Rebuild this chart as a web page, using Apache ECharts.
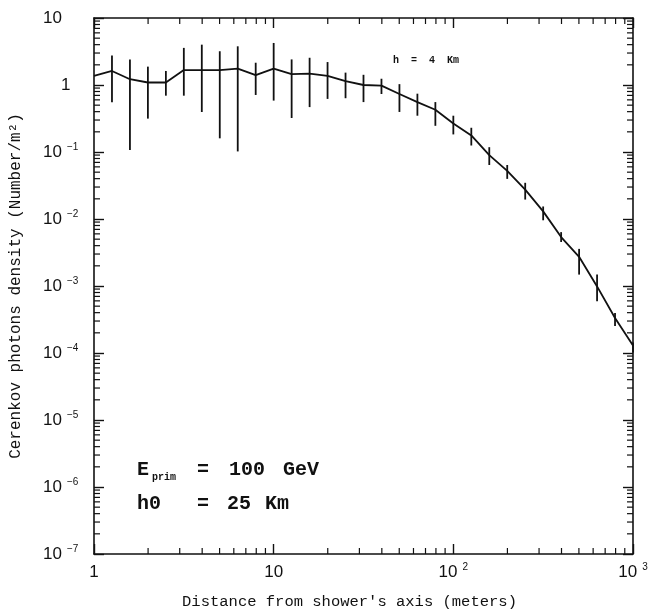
<!DOCTYPE html>
<html>
<head>
<meta charset="utf-8">
<script src="https://cdn.jsdelivr.net/npm/echarts@6/dist/echarts.min.js"></script>
<style>
  html, body { margin: 0; padding: 0; background: #fff; }
  #chart { width: 663px; height: 615px; }
</style>
</head>
<body>
<div id="chart"></div>
<script>
// Radial distance from the shower axis (m)
const distance = [1, 1.259, 1.585, 1.995, 2.512, 3.162, 3.981, 5.012, 6.310, 7.943,
  10, 12.59, 15.85, 19.95, 25.12, 31.62, 39.81, 50.12, 63.10, 79.43,
  100, 125.9, 158.5, 199.5, 251.2, 316.2, 398.1, 501.2, 631.0, 794.3, 1000];

// Cerenkov photon density (photons / m^2)
const density = [1.37, 1.62, 1.22, 1.09, 1.09, 1.67, 1.67, 1.67, 1.76, 1.40,
  1.76, 1.45, 1.48, 1.37, 1.14, 1.00, 0.98, 0.734, 0.556, 0.427,
  0.266, 0.177, 0.0897, 0.0522, 0.0274, 0.0130, 0.00538, 0.00273, 0.000986, 0.000333, 0.000129];

// Fluctuation band (lower / upper edge of each error bar)
const errLow = [null, 0.554, 0.107, 0.315, 0.693, 0.693, 0.395, 0.160, 0.102, 0.71,
  0.585, 0.322, 0.468, 0.62, 0.635, 0.556, 0.734, 0.396, 0.348, 0.246,
  0.183, 0.125, 0.064, 0.0397, 0.0195, 0.00957, 0.00454, 0.00148, 0.000593, 0.000254, 0.000102];
const errHigh = [null, 2.76, 2.41, 1.88, 1.62, 3.58, 4.0, 3.19, 3.78, 2.15,
  4.24, 2.41, 2.55, 2.20, 1.53, 1.42, 1.24, 1.03, 0.742, 0.556,
  0.348, 0.230, 0.118, 0.064, 0.0347, 0.01538, 0.00637, 0.00358, 0.00148, 0.000395, 0.000143];

// Axis ranges
const xRange = [1, 1000];
const yRange = [1e-7, 10];

const lineData = distance.map((d, i) => [d, density[i]]);
const barData = [];
distance.forEach((d, i) => {
  if (errLow[i] != null) barData.push([d, errLow[i], errHigh[i]]);
});

// minor tick values (2..9 within each decade)
function minorValues(lo, hi) {
  const out = [];
  for (let e = Math.round(Math.log10(lo)); e < Math.round(Math.log10(hi)); e++) {
    for (let m = 2; m <= 9; m++) out.push(m * Math.pow(10, e));
  }
  return out;
}
const xMinor = minorValues(xRange[0], xRange[1]);
const yMinor = minorValues(yRange[0], yRange[1]);

const labelFont = 'Liberation Sans';
const monoFont = 'Liberation Mono';
const ink = '#111';

function powLabel(v, axis) {
  const e = Math.round(Math.log10(v));
  if (e === 0) return axis === 'y' ? '{one|1}' : '{b|1}';
  if (e === 1) return '{b|10}';
  return '{b|10}{s|' + (e < 0 ? '\u2212' + (-e) : e) + '}';
}
const labelRich = {
  b: { fontFamily: labelFont, fontSize: 17, color: ink, lineHeight: 20 },
  one: { fontFamily: labelFont, fontSize: 17, color: ink, lineHeight: 20, padding: [0, 0, 0, 18] },
  s: { fontFamily: labelFont, fontSize: 10, color: ink, lineHeight: 10, verticalAlign: 'top', padding: [0, 0, 0, 5] }
};

const axisLineStyle = { show: true, lineStyle: { color: ink, width: 1.6 } };

const chart = echarts.init(document.getElementById('chart'), null, { renderer: 'canvas' });

chart.setOption({
  animation: false,
  backgroundColor: '#fff',
  grid: { left: 91, right: 30, top: 18, bottom: 54, containLabel: false },
  xAxis: [
    {
      type: 'log', logBase: 10, min: xRange[0], max: xRange[1], position: 'bottom',
      axisLine: axisLineStyle,
      axisTick: { show: true, inside: true, length: 10, lineStyle: { color: ink, width: 1.4 } },
      splitLine: { show: false },
      axisLabel: { margin: 8, formatter: v => powLabel(v, 'x'), rich: labelRich },
      name: "Distance from shower's axis (meters)",
      nameLocation: 'middle', nameGap: 40,
      nameTextStyle: { fontFamily: monoFont, fontSize: 15.5, color: ink, padding: [0, 28, 0, 0] }
    },
    {
      type: 'log', logBase: 10, min: xRange[0], max: xRange[1], position: 'top',
      axisLine: axisLineStyle,
      axisTick: { show: true, inside: true, length: 10, lineStyle: { color: ink, width: 1.4 } },
      splitLine: { show: false },
      axisLabel: { show: false }
    }
  ],
  yAxis: [
    {
      type: 'log', logBase: 10, min: yRange[0], max: yRange[1], position: 'left',
      axisLine: axisLineStyle,
      axisTick: { show: true, inside: true, length: 10, lineStyle: { color: ink, width: 1.4 } },
      splitLine: { show: false },
      axisLabel: { margin: 51, align: 'left', formatter: v => powLabel(v, 'y'), rich: labelRich },
      name: 'Cerenkov photons density (Number/m\u00b2)',
      nameLocation: 'middle', nameGap: 70, nameRotate: 90,
      nameTextStyle: { fontFamily: monoFont, fontSize: 16, color: ink }
    },
    {
      type: 'log', logBase: 10, min: yRange[0], max: yRange[1], position: 'right',
      axisLine: axisLineStyle,
      axisTick: { show: true, inside: true, length: 10, lineStyle: { color: ink, width: 1.4 } },
      splitLine: { show: false },
      axisLabel: { show: false }
    }
  ],
  series: [
    {
      // minor ticks on all four sides of the frame
      type: 'custom',
      silent: true,
      data: [[xRange[0], yRange[0]]],
      renderItem: function (params, api) {
        const cs = params.coordSys;
        const L = 6, children = [];
        const st = { stroke: ink, lineWidth: 1.2 };
        xMinor.forEach(v => {
          const px = api.coord([v, yRange[0]])[0];
          children.push({ type: 'line', shape: { x1: px, y1: cs.y + cs.height, x2: px, y2: cs.y + cs.height - L }, style: st });
          children.push({ type: 'line', shape: { x1: px, y1: cs.y, x2: px, y2: cs.y + L }, style: st });
        });
        yMinor.forEach(v => {
          const py = api.coord([xRange[0], v])[1];
          children.push({ type: 'line', shape: { x1: cs.x, y1: py, x2: cs.x + L, y2: py }, style: st });
          children.push({ type: 'line', shape: { x1: cs.x + cs.width, y1: py, x2: cs.x + cs.width - L, y2: py }, style: st });
        });
        return { type: 'group', children: children };
      }
    },
    {
      type: 'line',
      data: lineData,
      showSymbol: false,
      symbol: 'none',
      lineStyle: { color: ink, width: 1.8 },
      z: 3
    },
    {
      // vertical fluctuation bars
      type: 'custom',
      data: barData,
      renderItem: function (params, api) {
        const x = api.value(0);
        const lo = api.coord([x, api.value(1)]);
        const hi = api.coord([x, api.value(2)]);
        return {
          type: 'line',
          shape: { x1: lo[0], y1: lo[1], x2: hi[0], y2: hi[1] },
          style: { stroke: ink, lineWidth: 1.8 }
        };
      },
      z: 4
    }
  ],
  graphic: [
    { type: 'text', left: 393, top: 55, style: { text: 'h  =  4  Km', font: 'bold 10px "Liberation Mono"', fill: ink } },
    { type: 'text', left: 137, top: 460, style: { text: 'E', font: 'bold 20px "Liberation Mono"', fill: ink } },
    { type: 'text', left: 152, top: 472, style: { text: 'prim', font: 'bold 10px "Liberation Mono"', fill: ink } },
    { type: 'text', left: 197, top: 460, style: { text: '=', font: 'bold 20px "Liberation Mono"', fill: ink } },
    { type: 'text', left: 229, top: 460, style: { text: '100', font: 'bold 20px "Liberation Mono"', fill: ink } },
    { type: 'text', left: 283, top: 460, style: { text: 'GeV', font: 'bold 20px "Liberation Mono"', fill: ink } },
    { type: 'text', left: 137, top: 494, style: { text: 'h0', font: 'bold 20px "Liberation Mono"', fill: ink } },
    { type: 'text', left: 197, top: 494, style: { text: '=', font: 'bold 20px "Liberation Mono"', fill: ink } },
    { type: 'text', left: 227, top: 494, style: { text: '25', font: 'bold 20px "Liberation Mono"', fill: ink } },
    { type: 'text', left: 265, top: 494, style: { text: 'Km', font: 'bold 20px "Liberation Mono"', fill: ink } }
  ]
});
</script>
</body>
</html>
